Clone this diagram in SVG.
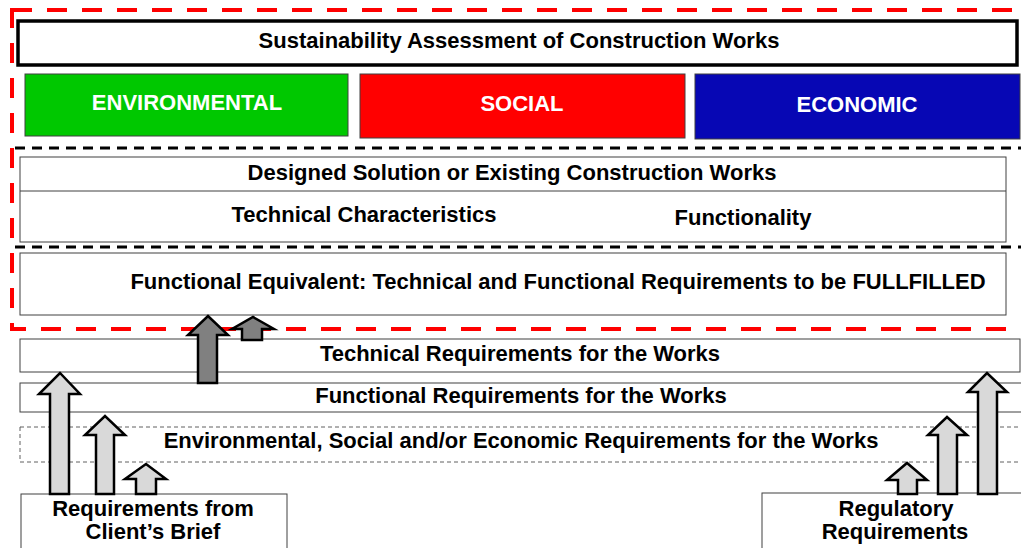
<svg xmlns="http://www.w3.org/2000/svg" width="1021" height="548" viewBox="0 0 1021 548">
<style>
text{font-family:"Liberation Sans",Arial,sans-serif;font-weight:bold;text-anchor:middle;fill:#000}
.box{fill:#fff;stroke:#404040;stroke-width:1}
.w{fill:#fff;font-size:22px}
.t{font-size:22px}
.la{fill:#d9d9d9;stroke:#000;stroke-width:2.5;stroke-linejoin:miter}
.da{fill:#808080;stroke:#000;stroke-width:2.5}
</style>
<rect width="1021" height="548" fill="#fff"/>
<g id="sustainability">
<rect x="18" y="21" width="999" height="44" fill="#fff" stroke="#000" stroke-width="3.5"/>
<text class="t" x="519" y="48">Sustainability Assessment of Construction Works</text>
</g>
<g id="environmental">
<rect x="25" y="74" width="323" height="62" fill="#00c800" stroke="#404040" stroke-width="1"/>
<text class="w" x="187" y="110">ENVIRONMENTAL</text>
</g>
<g id="social">
<rect x="360" y="74" width="325" height="64" fill="#ff0000" stroke="#404040" stroke-width="1"/>
<text class="w" x="522" y="111">SOCIAL</text>
</g>
<g id="economic">
<rect x="695" y="74" width="325" height="65" fill="#0707b4" stroke="#404040" stroke-width="1"/>
<text class="w" x="857" y="112">ECONOMIC</text>
</g>
<g id="designed">
<rect class="box" x="20" y="157" width="986" height="85"/>
<line x1="20" y1="191" x2="1006" y2="191" stroke="#404040" stroke-width="1"/>
<text class="t" x="512" y="180">Designed Solution or Existing Construction Works</text>
<text class="t" x="364" y="222">Technical Characteristics</text>
<text class="t" x="743" y="225">Functionality</text>
</g>
<g id="functional-equivalent">
<rect class="box" x="20" y="253" width="986" height="62"/>
<text class="t" x="558" y="289">Functional Equivalent: Technical and Functional Requirements to be FULLFILLED</text>
</g>
<g id="dividers">
<line x1="15" y1="148" x2="1021" y2="148" stroke="#000" stroke-width="3" stroke-dasharray="10,7"/>
<line x1="15" y1="247" x2="1021" y2="247" stroke="#000" stroke-width="3" stroke-dasharray="10,7"/>
</g>
<g id="red-frame">
<rect x="12" y="10" width="1020" height="319" fill="none" stroke="#ff0000" stroke-width="4" stroke-dasharray="20,15"/>
</g>
<g id="technical-req">
<rect class="box" x="20" y="339" width="1000" height="33"/>
<text class="t" x="520" y="361">Technical Requirements for the Works</text>
</g>
<g id="functional-req">
<rect class="box" x="20" y="383" width="1010" height="29"/>
<text class="t" x="521" y="403">Functional Requirements for the Works</text>
</g>
<g id="esoc-req">
<rect x="20" y="427" width="1010" height="35" fill="#fff" stroke="#606060" stroke-width="1" stroke-dasharray="4,3"/>
<text class="t" x="521" y="448">Environmental, Social and/or Economic Requirements for the Works</text>
</g>
<g id="client-brief">
<rect class="box" x="21" y="494" width="266" height="60"/>
<text class="t" x="153" y="516">Requirements from</text>
<text class="t" x="153" y="539">Client’s Brief</text>
</g>
<g id="regulatory">
<rect class="box" x="762" y="493" width="270" height="60"/>
<text class="t" x="896" y="516">Regulatory</text>
<text class="t" x="895" y="539">Requirements</text>
</g>
<g id="connectors">
<polygon class="la" points="50,494 50,394 39,394 60,373 80,394 69,394 69,494"/>
<polygon class="la" points="96,494 96,435 85,435 105,416 125,435 114,435 114,494"/>
<polygon class="la" points="136,494 136,479 125,479 146,464 166,479 156,479 156,494"/>
<polygon class="la" points="898,494 898,480 887,480 907,463 927,480 917,480 917,494"/>
<polygon class="la" points="938,494 938,435 928,435 947,417 967,435 957,435 957,494"/>
<polygon class="la" points="978,494 978,392 968,392 987,373 1007,392 997,392 997,494"/>
<polygon class="da" points="198,383 198,335 188,335 208,316 228,335 217,335 217,383"/>
<polygon class="da" points="242,340 242,329 232,329 253,317 274,329 262,329 262,340"/>
</g>
</svg>
